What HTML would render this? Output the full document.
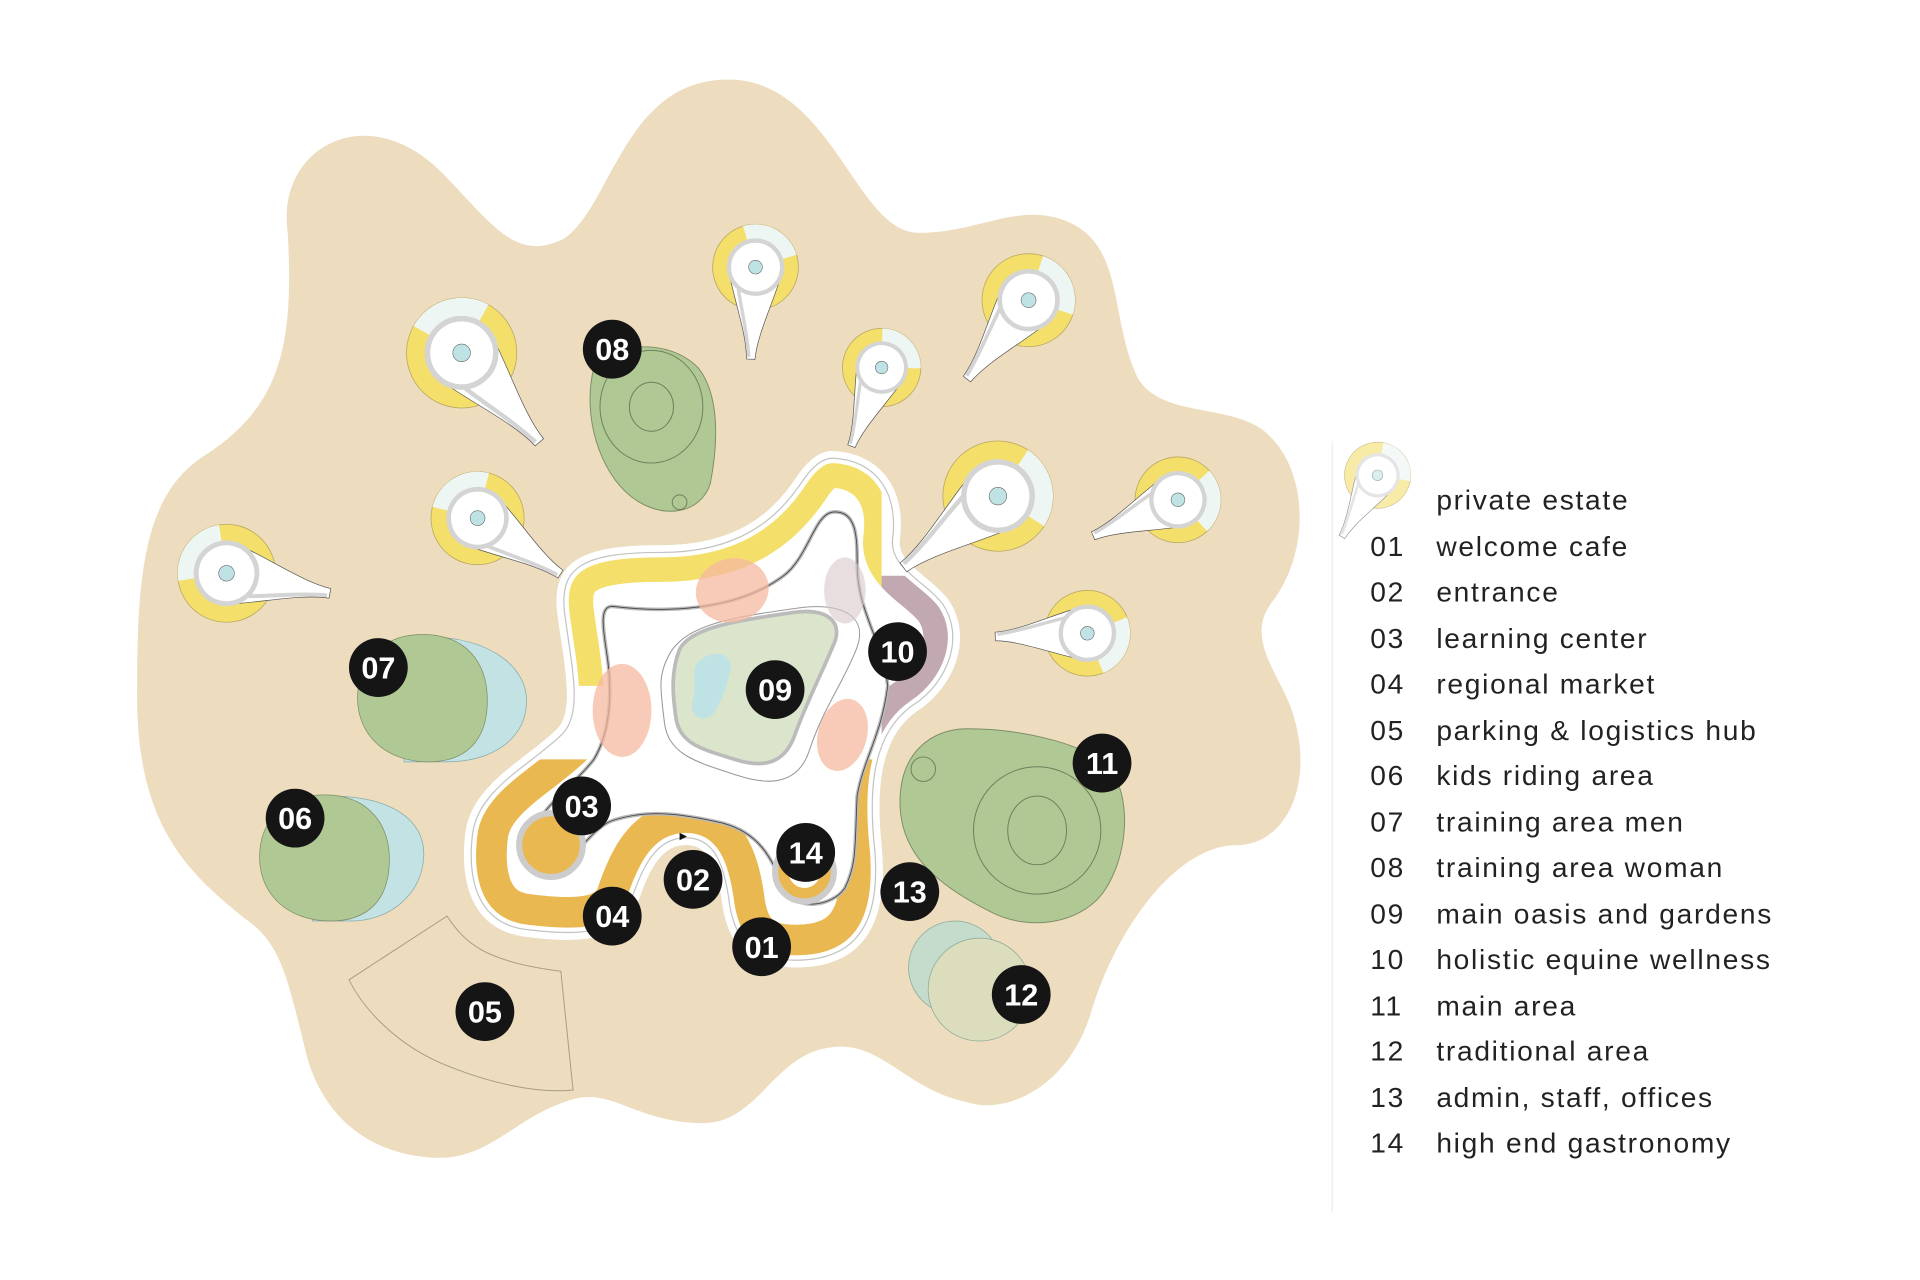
<!DOCTYPE html>
<html><head><meta charset="utf-8"><style>
html,body{margin:0;padding:0;background:#fff;}
svg{display:block;}
.lbl{font-family:"Liberation Sans",sans-serif;font-weight:bold;font-size:25px;fill:#fff;text-anchor:middle;}
.lg{font-family:"Liberation Sans",sans-serif;font-size:23px;fill:#222;letter-spacing:1.4px;}
</style></head><body>
<svg width="1920" height="1280" viewBox="0 0 1568 1045" xmlns="http://www.w3.org/2000/svg">
<defs>
  <g id="pin">
    <circle r="1" fill="#f4df6b" stroke="#b9a862" stroke-width="0.8" vector-effect="non-scaling-stroke"/>
    <path d="M0,0 L-0.94,0.34 A1,1 0 0 1 -0.34,-0.94 Z" fill="#eef6f4"/>
    <path d="M0.2,-0.6 C0.9,-0.42 1.6,-0.12 2.15,-0.1 L2.15,0.1 C1.6,0.12 0.9,0.42 0.2,0.6 Z" fill="#fff" stroke="#555" stroke-width="0.7" vector-effect="non-scaling-stroke"/>
    <circle r="0.62" fill="#fff" stroke="#d4d4d4" stroke-width="0.1"/>
    <path d="M0.5,0.38 C1,0.28 1.6,0.1 2.1,0.05" fill="none" stroke="#d4d4d4" stroke-width="0.08"/>
    <circle r="0.16" fill="#bfe3e5" stroke="#666" stroke-width="0.6" vector-effect="non-scaling-stroke"/>
  </g>
  <clipPath id="halo"><path id="hp" d="M680 368 C720 370,740 400,735 440 C732 460,760 470,775 490 C795 520,780 560,750 580 C720 600,715 640,720 690 C725 740,715 790,650 790 C610 790,595 770,590 740 C585 700,575 690,560 690 C540 690,530 710,520 740 C505 770,470 770,430 765 C385 760,375 720,380 680 C385 640,430 620,455 595 C470 580,460 540,455 500 C450 455,480 445,540 445 C600 445,630 420,650 390 C660 375,670 368,680 368 Z"/></clipPath>
  <clipPath id="cy"><rect x="0" y="0" width="720" height="560"/></clipPath>
  <clipPath id="co"><rect x="0" y="620" width="1000" height="400"/></clipPath>
  <clipPath id="cp"><rect x="720" y="470" width="100" height="130"/></clipPath>
</defs>

<path d="M235 190 C225 120,300 80,360 140 C400 180,420 215,460 195 C500 170,510 60,600 65 C680 70,700 190,750 190 C800 190,830 165,870 180 C920 200,905 260,930 310 C950 340,1000 330,1030 350 C1070 380,1070 450,1040 490 C1015 520,1045 550,1055 580 C1075 640,1050 690,1010 690 C960 690,910 760,890 830 C870 890,820 910,790 900 C740 890,720 850,680 855 C630 860,620 920,570 917 C520 915,500 890,470 897 C420 910,400 950,350 945 C290 940,260 900,250 860 C235 800,230 770,200 750 C150 710,110 670,112 560 C112 460,120 400,170 370 C230 330,240 280,235 190 Z" fill="#eddcbd"/>

<line x1="1088" y1="360" x2="1088" y2="990" stroke="#eee" stroke-width="1"/>

<path d="M285 800 L365 748 C380 770,395 785,458 793 L468 890 C440 893,400 885,360 868 C330 855,300 830,285 800 Z" fill="none" stroke="#a89c84" stroke-width="0.8"/>

<path d="M485 300 C500 280,545 275,570 300 C590 325,585 370,580 395 C572 420,540 425,515 405 C490 385,475 340,485 300 Z" fill="#b0c894" stroke="#7d8e69" stroke-width="0.8"/>
<ellipse cx="532" cy="332" rx="42" ry="46" fill="none" stroke="#6f7f5d" stroke-width="0.8"/>
<ellipse cx="532" cy="332" rx="18" ry="20" fill="none" stroke="#6f7f5d" stroke-width="0.8"/>
<circle cx="555" cy="410" r="6" fill="none" stroke="#6f7f5d" stroke-width="0.8"/>

<path d="M350 520 C400 520,432 545,430 575 C428 605,400 622,365 622 L330 622 L330 520 Z" fill="#c2e2e4" stroke="#8aa" stroke-width="0.6"/>
<path d="M345 518 C380 518,398 540,398 572 C398 605,380 622,350 622 C315 622,292 600,292 570 C292 540,312 518,345 518 Z" fill="#b0c894" stroke="#7d8e69" stroke-width="0.6"/>
<path d="M270 650 C320 650,348 670,346 700 C344 730,320 750,290 752 L255 752 L255 650 Z" fill="#c2e2e4" stroke="#8aa" stroke-width="0.6"/>
<path d="M265 649 C300 649,318 672,318 702 C318 735,300 752,270 752 C235 752,212 730,212 700 C212 670,232 649,265 649 Z" fill="#b0c894" stroke="#7d8e69" stroke-width="0.6"/>
<path d="M790 595 C830 595,880 605,905 625 C925 650,922 700,900 730 C880 755,840 760,810 745 C770 725,735 700,735 655 C735 615,760 595,790 595 Z" fill="#b0c894" stroke="#7d8e69" stroke-width="0.8"/>
<circle cx="847" cy="678" r="52" fill="none" stroke="#6f7f5d" stroke-width="0.8"/>
<ellipse cx="847" cy="678" rx="24" ry="28" fill="none" stroke="#6f7f5d" stroke-width="0.8"/>
<circle cx="754" cy="628" r="10" fill="none" stroke="#6f7f5d" stroke-width="0.8"/>
<circle cx="780" cy="790" r="38" fill="#c5dbcc" stroke="#8a9" stroke-width="0.6"/>
<circle cx="800" cy="808" r="42" fill="#dcddbc" stroke="#8a9" stroke-width="0.6"/>

<use href="#hp" fill="#fff"/>
<g clip-path="url(#halo)">
  <g clip-path="url(#cy)"><use href="#hp" fill="none" stroke="#f4df6b" stroke-width="60"/></g>
  <g clip-path="url(#co)"><use href="#hp" fill="none" stroke="#e9b850" stroke-width="70"/></g>
  <g clip-path="url(#cp)"><use href="#hp" fill="none" stroke="#c2a8b0" stroke-width="60"/></g>
  <use href="#hp" fill="none" stroke="#fff" stroke-width="20"/>
  <use href="#hp" fill="none" stroke="#888" stroke-width="13" opacity="0.5"/>
  <use href="#hp" fill="none" stroke="#fff" stroke-width="11"/>
</g>
<path d="M500 495 C540 500,600 500,640 470 C660 455,665 420,680 418 C700 416,700 440,700 460 C700 500,720 520,725 560 C720 600,705 620,700 650 C698 690,700 705,690 725 C680 740,650 745,640 725 C630 700,620 680,590 672 C560 665,530 660,500 670 C485 675,470 700,455 710 C440 712,430 700,432 685 C440 660,470 640,485 620 C500 595,500 560,495 530 C492 510,490 495,500 495 Z" fill="#fff" stroke="#bbb" stroke-width="3"/>
<path d="M500 495 C540 500,600 500,640 470 C660 455,665 420,680 418 C700 416,700 440,700 460 C700 500,720 520,725 560 C720 600,705 620,700 650 C698 690,700 705,690 725 C680 740,650 745,640 725 C630 700,620 680,590 672 C560 665,530 660,500 670 C485 675,470 700,455 710 C440 712,430 700,432 685 C440 660,470 640,485 620 C500 595,500 560,495 530 C492 510,490 495,500 495 Z" fill="none" stroke="#444" stroke-width="0.7"/>
<circle cx="450" cy="690" r="26" fill="#e9b850" stroke="#ccc" stroke-width="5"/>
<circle cx="657" cy="712" r="24" fill="#e9b850" stroke="#ccc" stroke-width="5"/>
<circle cx="657" cy="712" r="13" fill="#fff"/>
<path d="M548 535 C560 510,600 505,650 498 C680 495,700 505,690 530 C680 555,665 575,655 605 C648 628,630 635,600 625 C570 615,548 610,545 585 C542 560,540 550,548 535 Z" fill="none" stroke="#999" stroke-width="0.8" transform="translate(-46,-42) scale(1.08)"/>
<path d="M555 530 C565 512,600 507,648 500 C676 496,690 508,680 528 C670 552,658 575,648 603 C640 622,625 628,600 620 C575 612,555 608,552 586 C549 565,548 548,555 530 Z" fill="#dae5cc" stroke="#bbb" stroke-width="3"/>
<path d="M573 538 C585 530,600 533,596 550 C592 565,588 578,580 585 C570 590,562 582,566 570 C570 556,562 545,573 538 Z" fill="#bfe3e5"/>
<ellipse cx="598" cy="482" rx="30" ry="26" fill="#f5b9a0" opacity="0.75" transform="rotate(-15 598 482)"/>
<ellipse cx="508" cy="580" rx="24" ry="38" fill="#f5b9a0" opacity="0.75"/>
<ellipse cx="688" cy="600" rx="20" ry="30" fill="#f5b9a0" opacity="0.75" transform="rotate(15 688 600)"/>
<ellipse cx="690" cy="482" rx="17" ry="27" fill="#d8c8cc" opacity="0.6"/>
<path d="M555 680 l6 3 l-6 3z" fill="#111"/>

<use href="#pin" transform="translate(377,288) rotate(49) scale(45)"/>
<use href="#pin" transform="translate(617,218) rotate(93) scale(35)"/>
<use href="#pin" transform="translate(840,245) rotate(128) scale(38)"/>
<use href="#pin" transform="translate(720,300) rotate(111) scale(32)"/>
<use href="#pin" transform="translate(390,423) rotate(34) scale(38)"/>
<use href="#pin" transform="translate(185,468) rotate(11) scale(40)"/>
<use href="#pin" transform="translate(815,405) rotate(143) scale(45)"/>
<use href="#pin" transform="translate(962,408) rotate(157) scale(35)"/>
<use href="#pin" transform="translate(888,517) rotate(178) scale(35)"/>
<use href="#pin" transform="translate(1125,388) rotate(120) scale(27)" opacity="0.6"/>

<g>
<circle cx="500" cy="285" r="24" fill="#151515"/><text class="lbl" x="500" y="294">08</text>
<circle cx="309" cy="545" r="24" fill="#151515"/><text class="lbl" x="309" y="554">07</text>
<circle cx="241" cy="668" r="24" fill="#151515"/><text class="lbl" x="241" y="677">06</text>
<circle cx="396" cy="826" r="24" fill="#151515"/><text class="lbl" x="396" y="835">05</text>
<circle cx="475" cy="658" r="24" fill="#151515"/><text class="lbl" x="475" y="667">03</text>
<circle cx="500" cy="748" r="24" fill="#151515"/><text class="lbl" x="500" y="757">04</text>
<circle cx="566" cy="718" r="24" fill="#151515"/><text class="lbl" x="566" y="727">02</text>
<circle cx="622" cy="773" r="24" fill="#151515"/><text class="lbl" x="622" y="782">01</text>
<circle cx="658" cy="696" r="24" fill="#151515"/><text class="lbl" x="658" y="705">14</text>
<circle cx="743" cy="728" r="24" fill="#151515"/><text class="lbl" x="743" y="737">13</text>
<circle cx="733" cy="532" r="24" fill="#151515"/><text class="lbl" x="733" y="541">10</text>
<circle cx="633" cy="563" r="24" fill="#151515"/><text class="lbl" x="633" y="572">09</text>
<circle cx="900" cy="623" r="24" fill="#151515"/><text class="lbl" x="900" y="632">11</text>
<circle cx="834" cy="812" r="24" fill="#151515"/><text class="lbl" x="834" y="821">12</text>
</g>

<g class="lg">
<text x="1173" y="416">private estate</text>
<text x="1119" y="454">01</text><text x="1173" y="454">welcome cafe</text>
<text x="1119" y="491">02</text><text x="1173" y="491">entrance</text>
<text x="1119" y="529">03</text><text x="1173" y="529">learning center</text>
<text x="1119" y="566">04</text><text x="1173" y="566">regional market</text>
<text x="1119" y="604">05</text><text x="1173" y="604">parking &amp; logistics  hub</text>
<text x="1119" y="641">06</text><text x="1173" y="641">kids riding area</text>
<text x="1119" y="679">07</text><text x="1173" y="679">training area men</text>
<text x="1119" y="716">08</text><text x="1173" y="716">training area woman</text>
<text x="1119" y="754">09</text><text x="1173" y="754">main oasis and gardens</text>
<text x="1119" y="791">10</text><text x="1173" y="791">holistic equine wellness</text>
<text x="1119" y="829">11</text><text x="1173" y="829">main area</text>
<text x="1119" y="866">12</text><text x="1173" y="866">traditional area</text>
<text x="1119" y="904">13</text><text x="1173" y="904">admin, staff, offices</text>
<text x="1119" y="941">14</text><text x="1173" y="941">high end gastronomy</text>
</g>
</svg>
</body></html>
